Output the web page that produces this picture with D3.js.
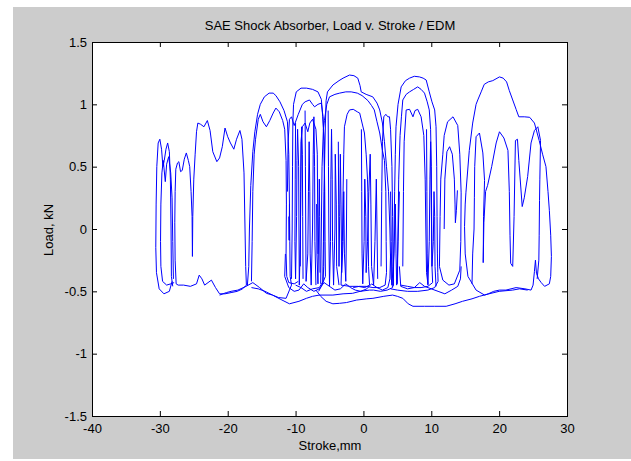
<!DOCTYPE html>
<html>
<head>
<meta charset="utf-8">
<script src="https://cdn.jsdelivr.net/npm/d3@7"></script>
<style>
  html, body { margin: 0; padding: 0; background: #ffffff; }
  svg { display: block; }
  text { font-family: "Liberation Sans", Arial, Helvetica, sans-serif; fill: #000; }
</style>
</head>
<body>
<svg id="chart" width="631" height="461"></svg>
<script>
// ---------------- data ----------------
const titleText = "SAE Shock Absorber, Load v. Stroke / EDM";
const xLabelText = "Stroke,mm";
const yLabelText = "Load, kN";
const xTicks = [-40, -30, -20, -10, 0, 10, 20, 30];
const xTickLabels = ["-40", "-30", "-20", "-10", "0", "10", "20", "30"];
const yTicks = [-1.5, -1, -0.5, 0, 0.5, 1, 1.5];
const yTickLabels = ["-1.5", "-1", "-0.5", "0", "0.5", "1", "1.5"];

// traces: [stroke (mm), load (kN)]
const loopLeftOuter = [[-28.1,-0.46],[-28.3,-0.38],[-28.35,0.0],[-28.45,0.4],[-28.6,0.62],[-28.85,0.69],[-29.1,0.64],[-29.35,0.55],[-29.55,0.5],[-29.75,0.64],[-30.0,0.72],[-30.25,0.69],[-30.45,0.5],[-30.55,0.2],[-30.6,-0.15],[-30.5,-0.35],[-30.1,-0.48],[-29.4,-0.52],[-28.6,-0.5],[-28.2,-0.42]];
const loopLeftInner = [[-28.0,-0.4],[-28.1,-0.1],[-28.2,0.25],[-28.4,0.45],[-28.7,0.58],[-29.0,0.52],[-29.2,0.38],[-29.5,0.55],[-29.7,0.45],[-29.85,0.2],[-29.9,-0.1],[-29.85,-0.3],[-29.6,-0.42],[-29.0,-0.45],[-28.4,-0.44],[-27.9,-0.43]];
const loopLeftWide = [[-27.6,-0.44],[-27.75,-0.25],[-27.8,0.05],[-27.75,0.3],[-27.65,0.48],[-27.4,0.53],[-27.2,0.54],[-26.95,0.46],[-26.7,0.47],[-26.4,0.56],[-26.1,0.61],[-25.8,0.55],[-25.6,0.5],[-25.4,0.3],[-25.25,0.1],[-25.2,-0.22],[-25.15,0.1],[-25.0,0.4],[-24.8,0.6],[-24.6,0.78],[-24.4,0.85],[-24.0,0.84],[-23.5,0.82],[-23.0,0.87],[-22.6,0.79],[-22.2,0.62],[-21.6,0.54],[-21.2,0.57],[-20.8,0.66],[-20.4,0.81],[-20.0,0.74],[-19.6,0.69],[-19.1,0.64],[-18.7,0.72],[-18.2,0.79],[-17.9,0.72],[-17.6,0.45],[-17.45,0.0],[-17.35,-0.3],[-17.25,-0.45],[-17.8,-0.48],[-18.6,-0.5],[-19.5,-0.51],[-20.4,-0.52],[-21.2,-0.52],[-21.8,-0.47],[-22.4,-0.41],[-22.9,-0.43],[-23.4,-0.45],[-23.8,-0.4],[-24.2,-0.37],[-24.6,-0.44],[-25.5,-0.46],[-26.5,-0.45],[-27.3,-0.45],[-27.6,-0.44]];
const loopMidA = [[-17.1,-0.45],[-16.9,-0.3],[-16.8,0.0],[-16.6,0.35],[-16.3,0.62],[-16.0,0.78],[-15.6,0.92],[-15.2,1.0],[-14.6,1.06],[-13.9,1.09],[-13.3,1.09],[-12.9,1.07],[-12.3,1.02],[-11.7,0.95],[-11.2,0.86],[-11.0,0.6],[-10.9,0.2],[-10.85,-0.1],[-10.8,-0.38],[-10.6,-0.45],[-11.4,-0.556],[-12.5,-0.55],[-13.4,-0.53],[-14.3,-0.516],[-15.3,-0.47],[-16.3,-0.43],[-17.3,-0.46],[-18.5,-0.49],[-19.5,-0.5],[-20.2,-0.51],[-21.2,-0.53]];
const loopMidB = [[-16.5,-0.42],[-16.4,-0.1],[-16.3,0.3],[-16.1,0.6],[-15.9,0.72],[-15.5,0.88],[-15.2,0.92],[-14.8,0.86],[-14.3,0.82],[-13.8,0.87],[-13.3,0.93],[-12.9,0.97],[-12.4,0.94],[-11.9,0.87],[-11.6,0.8],[-11.4,0.55],[-11.35,0.2],[-11.4,-0.2],[-11.3,-0.38],[-11.0,-0.43],[-10.2,-0.44],[-9.6,-0.42]];
const loopMidC = [[-10.6,-0.4],[-10.5,0.0],[-10.45,0.5],[-10.4,0.85],[-10.3,1.0],[-9.9,1.1],[-9.2,1.13],[-8.4,1.13],[-7.5,1.12],[-6.7,1.1],[-6.2,1.04],[-6.0,0.9],[-5.8,0.7],[-5.7,0.3],[-5.65,-0.1],[-5.6,-0.38],[-6.2,-0.46],[-6.6,-0.5]];
const lowReturn = [[-7.0,-0.49],[-6.3,-0.54],[-5.5,-0.58],[-4.5,-0.6],[-3.5,-0.596],[-2.5,-0.59],[-1.0,-0.57],[0.5,-0.56],[1.4,-0.556],[3.0,-0.54],[4.3,-0.53],[5.0,-0.54],[5.8,-0.556],[6.6,-0.6],[7.3,-0.62],[9.0,-0.62],[10.5,-0.62],[12.2,-0.62],[13.5,-0.6],[14.6,-0.58],[16.0,-0.56],[17.1,-0.54],[18.5,-0.52],[20.0,-0.5],[22.0,-0.49],[23.0,-0.48],[24.2,-0.49]];
const loopMidD = [[-11.2,0.3],[-11.1,0.7],[-10.9,0.88],[-10.6,0.9],[-10.2,0.83],[-9.6,0.92],[-9.0,1.0],[-8.6,1.02],[-7.95,1.035],[-7.5,1.0],[-7.2,0.98],[-6.7,1.0],[-6.2,1.01],[-5.95,0.9],[-5.8,0.71],[-5.75,0.4],[-5.8,0.0],[-5.85,-0.3],[-5.95,-0.42],[-6.5,-0.47],[-7.5,-0.48],[-8.4,-0.5],[-9.2,-0.47],[-10.0,-0.45]];
const loopMidE = [[-9.3,-0.3],[-9.25,0.3],[-9.2,0.7],[-9.0,0.82],[-8.6,0.85],[-8.2,0.78],[-7.9,0.85],[-7.5,0.88],[-7.0,0.8],[-6.8,0.6],[-6.75,0.2],[-6.7,-0.2]];
const loopCentreTall = [[-6.0,-0.44],[-5.9,-0.1],[-5.8,0.3],[-5.7,0.6],[-5.6,0.85],[-5.5,1.03],[-5.3,1.1],[-4.5,1.155],[-3.6,1.19],[-3.0,1.21],[-2.05,1.235],[-1.4,1.23],[-0.83,1.21],[-0.5,1.15],[-0.33,1.1],[0.4,1.08],[1.38,1.06],[2.0,1.01],[2.4,0.955],[2.8,0.85],[3.1,0.7],[3.4,0.5],[3.7,0.3],[3.9,0.0],[4.0,-0.25],[4.1,-0.4],[4.3,-0.47],[3.5,-0.49],[2.5,-0.5],[1.5,-0.49],[0.9,-0.49],[-0.5,-0.5],[-1.6,-0.516],[-3.0,-0.52],[-4.5,-0.53],[-6.5,-0.53],[-7.5,-0.54],[-8.4,-0.556],[-9.5,-0.58],[-10.9,-0.6],[-12.0,-0.57],[-13.4,-0.53],[-14.5,-0.5],[-15.5,-0.48],[-16.5,-0.47]];
const loopCentreMid = [[-6.3,-0.44],[-6.2,0.0],[-6.1,0.5],[-5.9,0.8],[-5.75,0.87],[-5.4,1.0],[-5.0,1.06],[-4.2,1.08],[-3.5,1.09],[-2.6,1.1],[-1.8,1.1],[-0.9,1.09],[-0.2,1.07],[0.66,1.03],[1.2,0.99],[1.6,0.955],[2.0,0.86],[2.4,0.77],[2.8,0.63],[3.1,0.55],[3.3,0.3],[3.35,-0.1],[3.4,-0.35],[3.2,-0.45],[2.4,-0.47],[1.4,-0.47],[0.4,-0.46],[-0.6,-0.46],[-1.5,-0.47]];
const loopCentreLow = [[-3.3,-0.45],[-3.1,-0.1],[-3.0,0.3],[-2.9,0.6],[-2.8,0.82],[-2.4,0.92],[-2.05,0.955],[-1.5,0.96],[-0.9,0.94],[-0.55,0.93],[-0.2,0.85],[0.15,0.77],[0.4,0.6],[0.6,0.4],[0.66,0.29],[0.7,0.0],[0.75,-0.3],[0.9,-0.45],[0.2,-0.47],[-0.8,-0.46],[-2.0,-0.46],[-3.3,-0.45]];
const loopRightA = [[4.4,-0.46],[4.5,-0.1],[4.6,0.3],[4.7,0.6],[4.8,0.82],[5.1,1.0],[5.56,1.14],[6.2,1.19],[6.8,1.21],[7.5,1.225],[8.26,1.22],[8.8,1.21],[9.25,1.195],[9.7,1.1],[10.1,1.02],[10.5,0.955],[10.7,0.82],[10.8,0.5],[10.85,0.1],[10.9,-0.2],[10.96,-0.35],[11.0,-0.42],[10.5,-0.47],[9.5,-0.49],[8.0,-0.5],[6.5,-0.5],[5.0,-0.49],[4.0,-0.48]];
const loopRightB = [[5.0,-0.44],[5.1,0.0],[5.2,0.4],[5.4,0.75],[5.6,0.9],[5.8,1.035],[6.3,1.08],[6.8,1.1],[7.4,1.12],[8.0,1.14],[8.5,1.12],[9.0,1.09],[9.4,1.02],[9.7,0.955],[9.9,0.8],[10.0,0.5],[10.05,0.1],[10.1,-0.3],[10.2,-0.43],[9.5,-0.46],[8.5,-0.47],[7.5,-0.47],[6.5,-0.46],[5.5,-0.45]];
const loopSmallA = [[2.6,-0.3],[2.7,0.3],[2.8,0.7],[3.0,0.9],[3.3,0.92],[3.6,0.9],[3.84,0.9],[4.0,0.8],[4.2,0.5],[4.3,0.1],[4.35,-0.3],[4.4,-0.45]];
const loopSmallB = [[5.8,-0.3],[5.9,0.3],[6.0,0.7],[6.3,0.955],[6.8,0.96],[7.3,0.9],[7.6,0.95],[8.0,0.96],[8.5,0.9],[8.9,0.75],[9.1,0.4],[9.2,0.0],[9.3,-0.35],[9.5,-0.44]];
const loopSmallC = [[11.2,-0.3],[11.3,0.1],[11.4,0.4],[11.7,0.6],[11.9,0.75],[12.4,0.86],[13.2,0.9],[13.9,0.83],[14.2,0.6],[14.4,0.29],[14.35,-0.1],[14.2,-0.33],[13.4,-0.44],[12.6,-0.45],[11.7,-0.41],[11.2,-0.3]];
const loopSmallD = [[11.9,0.0],[12.0,0.4],[12.3,0.62],[12.7,0.66],[13.1,0.6],[13.4,0.4],[13.5,0.2],[13.55,0.05],[13.7,0.15],[13.85,0.31]];
const loopFarRight = [[17.85,-0.53],[16.6,-0.49],[15.4,-0.38],[15.0,-0.2],[14.9,0.02],[15.0,0.2],[15.1,0.29],[15.6,0.63],[16.1,0.85],[16.6,1.0],[16.85,1.035],[17.35,1.1],[17.8,1.16],[18.4,1.18],[19.06,1.19],[20.05,1.22],[20.6,1.21],[21.1,1.18],[21.5,1.11],[22.0,1.035],[22.5,0.96],[22.9,0.9],[23.7,0.9],[24.5,0.896],[25.2,0.85],[25.9,0.71],[26.4,0.6],[26.9,0.5],[27.2,0.3],[27.4,0.15],[27.6,-0.05],[27.7,-0.22],[27.6,-0.38],[27.4,-0.44],[26.7,-0.46],[26.2,-0.43],[25.8,-0.4],[25.5,-0.355],[25.35,-0.25],[25.2,-0.34],[25.0,-0.45],[24.7,-0.49],[23.8,-0.48],[22.5,-0.47],[21.0,-0.49],[20.05,-0.49],[19.2,-0.5],[18.4,-0.52],[17.85,-0.53]];
const loopFarRightInner = [[16.0,-0.44],[16.1,-0.2],[16.3,0.0],[16.35,0.25],[16.4,0.5],[16.6,0.74],[17.1,0.77],[17.6,0.61],[17.85,0.39],[17.7,0.1],[17.65,-0.27],[17.75,0.05],[18.0,0.3],[18.3,0.35],[18.9,0.5],[19.56,0.69],[20.05,0.78],[20.7,0.73],[21.3,0.63],[21.5,0.3],[21.6,-0.05],[21.7,-0.275],[22.0,-0.3],[22.2,0.1],[22.4,0.71],[22.7,0.72],[22.9,0.55],[23.4,0.18],[23.7,0.25],[24.2,0.42],[24.7,0.69],[25.2,0.79],[25.7,0.82],[26.1,0.71],[26.0,0.4],[25.95,0.23],[25.9,-0.05],[25.85,-0.25],[25.6,-0.4]];
const bottomWaveA = [[-11.5,-0.2],[-11.6,-0.38],[-11.0,-0.47],[-10.2,-0.5],[-9.5,-0.49],[-8.8,-0.44],[-8.2,-0.47],[-7.3,-0.5],[-6.5,-0.48],[-5.8,-0.43],[-5.0,-0.46],[-4.2,-0.49],[-3.4,-0.48],[-2.6,-0.44],[-1.9,-0.47],[-1.2,-0.49],[-0.4,-0.5],[0.5,-0.48],[1.2,-0.44],[2.0,-0.47],[2.8,-0.49],[3.6,-0.47],[3.9,-0.4],[4.0,-0.2]];
const bottomWaveB = [[5.3,-0.3],[5.5,-0.46],[6.5,-0.48],[7.5,-0.47],[8.3,-0.43],[9.0,-0.46],[10.0,-0.48],[11.0,-0.5],[12.0,-0.52],[13.0,-0.49],[13.9,-0.46],[14.3,-0.4],[14.4,-0.3]];
const jitterA = [[-10.0,0.85],[-10.05,0.4],[-10.1,-0.1],[-10.0,-0.4],[-9.85,0.1],[-9.8,0.55],[-9.7,0.8],[-9.55,0.5],[-9.5,0.0],[-9.45,-0.45],[-9.3,-0.1],[-9.2,0.5],[-9.1,0.82],[-9.0,0.6],[-8.95,0.1],[-8.9,-0.4]];
const jitterB = [[-8.6,0.95],[-8.55,0.5],[-8.5,0.0],[-8.45,-0.42],[-8.2,-0.2],[-8.1,0.3],[-8.0,0.7],[-7.9,0.3],[-7.85,-0.2],[-7.7,-0.45],[-7.5,0.0],[-7.4,0.6],[-7.3,0.9],[-7.2,0.5],[-7.15,-0.1],[-7.0,-0.45]];
const jitterC = [[-6.9,0.2],[-6.85,-0.2],[-6.7,-0.44],[-6.6,0.0],[-6.5,0.4],[-6.45,0.1],[-6.4,-0.35]];
const jitterD = [[-5.2,0.95],[-5.15,0.5],[-5.1,0.0],[-5.0,-0.46],[-4.85,-0.1],[-4.8,0.4],[-4.7,0.8],[-4.6,0.4],[-4.55,-0.1],[-4.4,-0.45],[-4.2,0.0],[-4.15,0.6],[-4.0,0.2],[-3.95,-0.3],[-3.6,-0.45]];
const jitterE = [[-3.7,0.7],[-3.65,0.2],[-3.6,-0.3],[-3.5,0.1],[-3.4,0.6],[-3.3,0.2],[-3.2,-0.35],[-3.0,-0.1],[-2.9,0.3],[-2.8,-0.2],[-2.6,-0.42],[-2.5,0.0],[-2.45,0.4]];
const jitterF = [[-0.3,0.8],[-0.25,0.3],[-0.2,-0.2],[-0.1,-0.44],[0.1,-0.1],[0.2,0.4],[0.35,0.1],[0.4,-0.35],[0.6,-0.1],[0.8,0.3],[1.0,0.6],[1.1,0.2],[1.2,-0.3],[1.5,-0.45],[1.7,-0.1],[1.9,0.4],[2.0,0.0],[2.1,-0.4]];
const jitterG = [[4.0,0.3],[4.1,-0.1],[4.2,-0.45],[4.5,-0.2],[4.7,0.2],[4.8,-0.2],[4.9,-0.45],[5.1,-0.1],[5.3,0.3]];
const jitterH = [[9.3,0.8],[9.35,0.3],[9.4,-0.2],[9.5,-0.45],[9.7,-0.1],[9.8,0.4],[9.9,0.7],[10.0,0.2],[10.1,-0.3],[10.3,-0.1],[10.4,0.3],[10.5,0.1],[10.55,-0.3],[10.7,-0.46]];
const jitterI = [[-10.9,0.2],[-10.95,-0.09],[-11.0,0.1]];

const traces = [loopLeftOuter, loopLeftInner, loopLeftWide, loopMidA, loopMidB, loopMidC, lowReturn,
  loopMidD, loopMidE, loopCentreTall, loopCentreMid, loopCentreLow, loopRightA, loopRightB, loopSmallA,
  loopSmallB, loopSmallC, loopSmallD, loopFarRight, loopFarRightInner, bottomWaveA, bottomWaveB,
  jitterA, jitterB, jitterC, jitterD, jitterE, jitterF, jitterG, jitterH, jitterI];

// ---------------- drawing ----------------
const svg = d3.select("#chart");
const L = 92, R = 567, T = 42, B = 416;

const x = d3.scaleLinear().domain([-40, 30]).range([L, R]);
const y = d3.scaleLinear().domain([-1.5, 1.5]).range([B, T]);

svg.append("rect").attr("x", 13).attr("y", 7).attr("width", 618).attr("height", 452).attr("fill", "#cccccc");
svg.append("rect").attr("x", L + 0.5).attr("y", T + 0.5).attr("width", R - L).attr("height", B - T).attr("fill", "#ffffff");

svg.append("clipPath").attr("id", "clip").append("rect")
  .attr("x", L).attr("y", T).attr("width", R - L + 1).attr("height", B - T + 1);

const line = d3.line().x(d => x(d[0])).y(d => y(d[1]));
svg.append("g").attr("clip-path", "url(#clip)")
  .selectAll("path").data(traces).join("path")
  .attr("d", line)
  .attr("fill", "none")
  .attr("stroke", "#0000ff")
  .attr("stroke-width", 1)
  .attr("stroke-linejoin", "round");

const fmtX = d => xTickLabels[xTicks.indexOf(d)];
const fmtY = d => yTickLabels[yTicks.indexOf(d)];

function styleAxis(g) {
  g.select(".domain").remove();
  g.selectAll(".tick line").attr("stroke", "#000");
  g.selectAll("text").attr("font-size", 13).attr("fill", "#000")
    .attr("font-family", '"Liberation Sans", Arial, sans-serif');
}

svg.append("g").attr("transform", `translate(0,${B})`)
  .call(d3.axisBottom(x).tickValues(xTicks).tickFormat(fmtX).tickSizeInner(-5).tickSizeOuter(0).tickPadding(8))
  .call(styleAxis);
svg.append("g").attr("transform", `translate(0,${T})`)
  .call(d3.axisTop(x).tickValues(xTicks).tickFormat("").tickSizeInner(-5).tickSizeOuter(0))
  .call(styleAxis);
svg.append("g").attr("transform", `translate(${L},0)`)
  .call(d3.axisLeft(y).tickValues(yTicks).tickFormat(fmtY).tickSizeInner(-5).tickSizeOuter(0).tickPadding(5))
  .call(styleAxis);
svg.append("g").attr("transform", `translate(${R},0)`)
  .call(d3.axisRight(y).tickValues(yTicks).tickFormat("").tickSizeInner(-5).tickSizeOuter(0))
  .call(styleAxis);

svg.append("rect").attr("x", L + 0.5).attr("y", T + 0.5).attr("width", R - L).attr("height", B - T)
  .attr("fill", "none").attr("stroke", "#000").attr("stroke-width", 1);

svg.append("text").attr("x", 330).attr("y", 30).attr("text-anchor", "middle").attr("font-size", 13).text(titleText);
svg.append("text").attr("x", 330).attr("y", 450).attr("text-anchor", "middle").attr("font-size", 13).text(xLabelText);
svg.append("text").attr("transform", "translate(53,230) rotate(-90)").attr("text-anchor", "middle").attr("font-size", 13).text(yLabelText);
</script>
</body>
</html>
